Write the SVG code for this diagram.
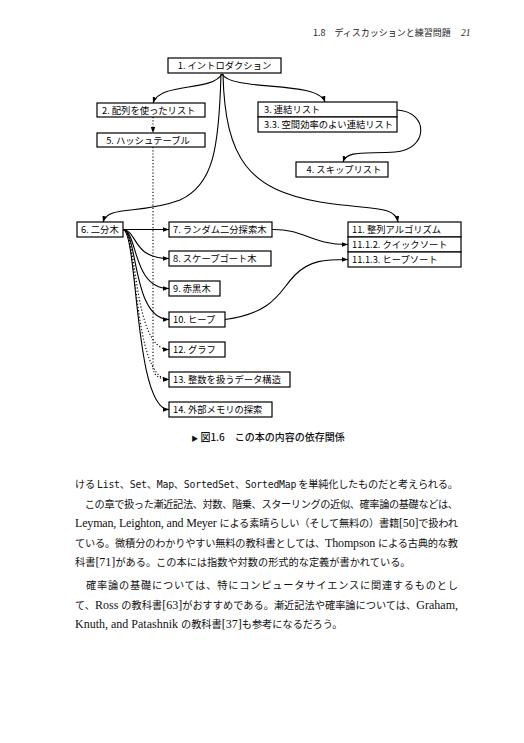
<svg xmlns="http://www.w3.org/2000/svg" width="524" height="743" viewBox="0 0 524 743">
<defs>
<marker id="ah" viewBox="0 0 8 6" refX="8" refY="3" markerWidth="6" markerHeight="4.5" markerUnits="userSpaceOnUse" orient="auto">
<path d="M0,0 L8,3 L0,6 z" fill="#000"/>
</marker>
<style>
.box{fill:#fff;stroke:#000;stroke-width:1.2}
.lb{font-family:"Noto Sans CJK JP","DejaVu Sans",sans-serif;font-size:9.3px;fill:#000}
.c{fill:none;stroke:#000;stroke-width:1.1;marker-end:url(#ah)}
.d{stroke-dasharray:1.2,2}
.body{font-family:"Noto Sans CJK JP",sans-serif;font-size:10.2px;fill:#111}
.lat{font-family:"Liberation Serif",serif;font-size:12px}
.mono{font-family:"DejaVu Sans Mono","Liberation Mono",monospace;font-size:9.8px}
.hd{font-family:"Noto Sans CJK JP",sans-serif;font-size:9px;fill:#222}
</style>
</defs>
<rect width="524" height="743" fill="#fff"/>

<text class="hd" x="313" y="36">1.8　ディスカッションと練習問題</text>
<text x="461" y="36" style="font-family:'Liberation Serif',serif;font-style:italic;font-size:9.5px;fill:#222">21</text>

<g id="connectors">
<path class="c" d="M222,74 C212,92 160,82 153,103"/>
<path class="c" d="M222,74 C232,92 318,80 325,102"/>
<path class="c" d="M221,74 C219,150 213,185 180,200 C140,215 108,205 103,222"/>
<path class="c" d="M223,74 C225,160 250,190 320,202 C370,210 395,205 398,222"/>
<path class="c" d="M397,110 C430,112 428,150 395,152 C365,154 347,150 343,162"/>
<path class="c d" d="M153,117 L153,133"/>
<path class="c d" d="M153,147 L153,366 C153,375 158,379 169,379.5"/>
<path class="c" d="M123,229.5 L169,229.5"/>
<path class="c" d="M123,229.5 C138,231 132,258.5 169,258.5"/>
<path class="c" d="M123,229.5 C138,231 132,288.5 169,288.5"/>
<path class="c" d="M123,229.5 C138,231 132,319.5 169,319.5"/>
<path class="c d" d="M123,229.5 C138,231 132,349.5 169,349.5"/>
<path class="c d" d="M123,229.5 C138,231 132,379.5 169,379.5"/>
<path class="c" d="M123,229.5 C138,231 134,409.5 169,409.5"/>
<path class="c" d="M272,229.5 C305,229 310,244.5 348,244.5"/>
<path class="c" d="M225,319.5 C275,313 280,290 295,275 C310,260 325,259.5 348,259.5"/>
</g>

<g id="n1"><rect class="box" x="168" y="58" width="113" height="15"/><text class="lb" x="224.5" y="69" text-anchor="middle">1. イントロダクション</text></g>
<g id="n2"><rect class="box" x="97" y="103" width="108" height="14"/><text class="lb" x="102" y="113.5">2. 配列を使ったリスト</text></g>
<g id="n5"><rect class="box" x="97" y="133" width="108" height="14"/><text class="lb" x="148" y="143.5" text-anchor="middle">5. ハッシュテーブル</text></g>
<g id="n3"><rect class="box" x="258" y="102" width="139" height="15"/><text class="lb" x="264" y="113">3. 連結リスト</text>
<rect class="box" x="258" y="117" width="139" height="15"/><text class="lb" x="264" y="128">3.3. 空間効率のよい連結リスト</text></g>
<g id="n4"><rect class="box" x="296" y="162" width="92" height="15"/><text class="lb" x="344" y="173" text-anchor="middle">4. スキップリスト</text></g>
<g id="n6"><rect class="box" x="77" y="222" width="46" height="15"/><text class="lb" x="81" y="233">6. 二分木</text></g>
<g id="n7"><rect class="box" x="169" y="222" width="103" height="15"/><text class="lb" x="173" y="233">7. ランダム二分探索木</text></g>
<g id="n8"><rect class="box" x="169" y="251" width="102" height="15"/><text class="lb" x="173" y="262">8. スケープゴート木</text></g>
<g id="n9"><rect class="box" x="169" y="281" width="51" height="15"/><text class="lb" x="173" y="292">9. 赤黒木</text></g>
<g id="n10"><rect class="box" x="169" y="312" width="56" height="15"/><text class="lb" x="173" y="323">10. ヒープ</text></g>
<g id="n12"><rect class="box" x="169" y="342" width="56" height="15"/><text class="lb" x="173" y="353">12. グラフ</text></g>
<g id="n13"><rect class="box" x="169" y="372" width="121" height="15"/><text class="lb" x="173" y="383">13. 整数を扱うデータ構造</text></g>
<g id="n14"><rect class="box" x="169" y="402" width="103" height="15"/><text class="lb" x="173" y="413">14. 外部メモリの探索</text></g>
<g id="n11"><rect class="box" x="348" y="222" width="113" height="15"/><text class="lb" x="352" y="233">11. 整列アルゴリズム</text>
<rect class="box" x="348" y="237" width="113" height="15"/><text class="lb" x="352" y="248">11.1.2. クイックソート</text>
<rect class="box" x="348" y="252" width="113" height="15"/><text class="lb" x="352" y="263">11.1.3. ヒープソート</text></g>

<text x="268" y="441" text-anchor="middle" style="font-family:'Noto Sans CJK JP',sans-serif;font-size:10px;font-weight:500;fill:#111"><tspan style="font-size:7px">▶</tspan> 図1.6　この本の内容の依存関係</text>

<g id="body" class="body">
<text x="75" y="488" textLength="383" lengthAdjust="spacing">ける <tspan class="mono">List</tspan>、<tspan class="mono">Set</tspan>、<tspan class="mono">Map</tspan>、<tspan class="mono">SortedSet</tspan>、<tspan class="mono">SortedMap</tspan> を単純化したものだと考えられる。</text>
<text x="75" y="507.5" textLength="383" lengthAdjust="spacing">　この章で扱った漸近記法、対数、階乗、スターリングの近似、確率論の基礎などは、</text>
<text x="75" y="527" textLength="383" lengthAdjust="spacing"><tspan class="lat">Leyman, Leighton, and Meyer </tspan>による素晴らしい（そして無料の）書籍<tspan class="lat">[50]</tspan>で扱われ</text>
<text x="75" y="546.5" textLength="383" lengthAdjust="spacing">ている。微積分のわかりやすい無料の教科書としては、<tspan class="lat">Thompson </tspan>による古典的な教</text>
<text x="75" y="566">科書<tspan class="lat">[71]</tspan>がある。この本には指数や対数の形式的な定義が書かれている。</text>
<text x="75" y="589" textLength="383" lengthAdjust="spacing">　確率論の基礎については、特にコンピュータサイエンスに関連するものとし</text>
<text x="75" y="608.5" textLength="383" lengthAdjust="spacing">て、<tspan class="lat">Ross </tspan>の教科書<tspan class="lat">[63]</tspan>がおすすめである。漸近記法や確率論については、<tspan class="lat">Graham,</tspan></text>
<text x="75" y="628"><tspan class="lat">Knuth, and Patashnik </tspan>の教科書<tspan class="lat">[37]</tspan>も参考になるだろう。</text>
</g>
</svg>
